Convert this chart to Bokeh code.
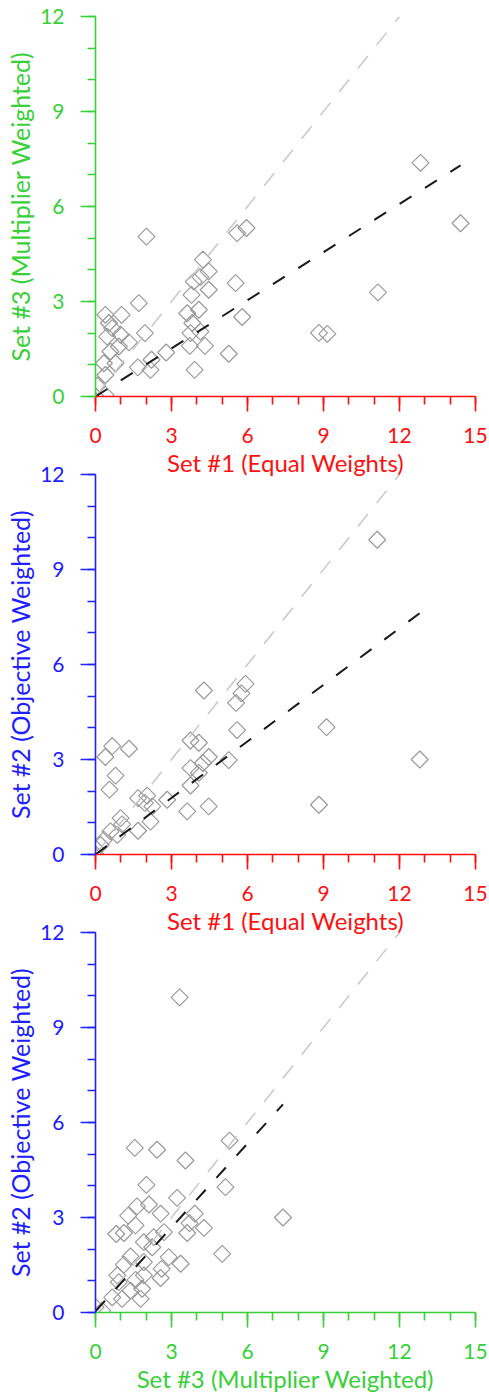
import numpy as np
from bokeh.plotting import figure
from bokeh.layouts import column
from bokeh.models import FixedTicker, Range1d
from bokeh.embed import file_html
from bokeh.resources import INLINE

# ---------------- data ----------------
x_ticks = [0, 3, 6, 9, 12, 15]
y_ticks = [0, 3, 6, 9, 12]
x_minor = list(range(0, 16))
y_minor = list(range(0, 13))

label_set1 = "Set #1 (Equal Weights)"
label_set2 = "Set #2 (Objective Weighted)"
label_set3 = "Set #3 (Multiplier Weighted)"

# Panel 1: Set #1 (x) vs Set #3 (y)
p1_x = [2.01, 5.59, 5.96, 4.24, 4.47, 4.14, 3.88, 5.53, 4.47, 3.79, 1.71, 0.39, 1.03, 4.08,
        3.62, 5.79, 0.53, 0.66, 3.82, 1.95, 0.46, 0.99, 3.75, 4.14, 1.32, 0.92, 3.72, 4.32,
        0.59, 0.79, 0.33, 0.39, 2.79, 2.21, 1.67, 2.17, 5.26, 3.91, 0.07, 0.00, 0.39,
        14.41, 11.15, 8.82, 9.15, 12.83]
p1_y = [5.05, 5.16, 5.32, 4.32, 3.95, 3.77, 3.63, 3.58, 3.37, 3.21, 2.95, 2.58, 2.58, 2.74,
        2.63, 2.51, 2.32, 2.16, 2.32, 2.00, 1.89, 1.95, 2.00, 2.05, 1.71, 1.58, 1.60, 1.60,
        1.42, 1.05, 1.05, 0.68, 1.39, 1.16, 0.92, 0.84, 1.35, 0.84, 0.34, 0.00, 0.05,
        5.47, 3.29, 2.01, 1.98, 7.38]
p1_fit_x = [0.0, 14.41]
p1_fit_y = [0.0, 7.30]

# Panel 2: Set #1 (x) vs Set #2 (y)
p2_x = [4.28, 5.92, 5.76, 5.55, 5.59, 3.75, 4.08, 0.66, 1.32, 0.39, 4.47, 4.24, 5.26, 3.75,
        4.08, 0.79, 3.75, 0.55, 1.68, 2.04, 1.95, 2.24, 2.83, 3.62, 4.47, 2.17, 1.68, 0.99,
        0.86, 0.59, 0.33, 1.05, 0.20, 0.00, 11.12, 9.12, 8.82, 12.80]
p2_y = [5.18, 5.39, 5.09, 4.79, 3.93, 3.60, 3.53, 3.42, 3.34, 3.08, 3.08, 2.89, 2.98, 2.73,
        2.58, 2.49, 2.18, 2.05, 1.78, 1.86, 1.63, 1.52, 1.73, 1.36, 1.52, 1.04, 0.75, 1.15,
        0.62, 0.73, 0.46, 0.95, 0.30, 0.00, 9.94, 4.02, 1.57, 3.00]
p2_fit_x = [0.0, 12.80]
p2_fit_y = [0.0, 7.62]

# Panel 3: Set #3 (x) vs Set #2 (y)
p3_x = [1.55, 2.43, 3.55, 5.29, 2.01, 5.13, 3.22, 1.64, 2.11, 2.57, 1.29, 1.58, 3.92, 3.71,
        4.28, 3.62, 0.82, 1.12, 2.70, 2.30, 1.91, 2.24, 5.00, 2.89, 3.36, 1.38, 1.12, 1.91,
        2.61, 0.86, 0.92, 1.58, 1.91, 2.57, 1.38, 0.66, 1.05, 1.78, 1.84, 0.00, 0.26, 3.32,
        7.40]
p3_y = [5.20, 5.14, 4.80, 5.43, 4.03, 3.96, 3.62, 3.35, 3.41, 3.12, 3.06, 2.75, 3.12, 2.82,
        2.67, 2.51, 2.48, 2.51, 2.54, 2.38, 2.22, 2.06, 1.85, 1.75, 1.54, 1.77, 1.51, 1.59,
        1.38, 1.17, 0.96, 1.03, 1.17, 1.09, 0.69, 0.48, 0.43, 0.43, 0.75, 0.17, 0.06, 9.95,
        3.00]
p3_fit_x = [0.0, 7.40]
p3_fit_y = [0.04, 6.57]

one_to_one = [0, 12]

# ---------------- styling ----------------
GREEN = "#38d038"
RED = "#ff1010"
BLUE = "#2020ff"
FONT = "Lato"


def style_axis(ax, ticks, minor, color, label, title_size):
    ax.ticker = FixedTicker(ticks=ticks, minor_ticks=minor)
    ax.axis_line_color = color
    ax.axis_line_width = 1.6
    ax.major_tick_line_color = color
    ax.minor_tick_line_color = color
    ax.major_tick_line_width = 1.6
    ax.minor_tick_line_width = 1.6
    ax.major_tick_out = 15
    ax.major_tick_in = 0
    ax.minor_tick_out = 8
    ax.minor_tick_in = 0
    ax.major_label_text_color = color
    ax.major_label_text_font = FONT
    ax.major_label_text_font_size = "21px"
    ax.major_label_standoff = 16
    ax.axis_label = label
    ax.axis_label_text_color = color
    ax.axis_label_text_font = FONT
    ax.axis_label_text_font_size = title_size
    ax.axis_label_text_font_style = "normal"


def make_panel(xs, ys, fx, fy, xcolor, ycolor, xlabel, ylabel, top_margin):
    p = figure(width=489, height=482, x_range=Range1d(0, 15), y_range=Range1d(0, 12),
               output_backend="svg", toolbar_location=None,
               min_border_left=95, min_border_right=14, min_border_top=16,
               min_border_bottom=86)
    p.grid.visible = False
    p.outline_line_color = None
    p.background_fill_color = None
    p.border_fill_color = None
    style_axis(p.xaxis[0], x_ticks, x_minor, xcolor, xlabel, "24px")
    style_axis(p.yaxis[0], y_ticks, y_minor, ycolor, ylabel, "25px")
    p.xaxis[0].axis_label_standoff = 2
    p.yaxis[0].axis_label_standoff = 2
    p.scatter(xs, ys, marker="square", size=12, angle=np.pi / 4,
              fill_color=None, line_color="#9a9a9a", line_width=1.2)
    p.line(one_to_one, one_to_one, line_color="#c8c8c8", line_dash="16 14", line_width=1.5)
    p.line(fx, fy, line_color="#1a1a1a", line_dash="14 16", line_width=2)
    if top_margin:
        p.margin = (top_margin, 0, 0, 0)
    return p


f1 = make_panel(p1_x, p1_y, p1_fit_x, p1_fit_y, RED, GREEN, label_set1, label_set3, 0)
f2 = make_panel(p2_x, p2_y, p2_fit_x, p2_fit_y, RED, BLUE, label_set1, label_set2, -24)
f3 = make_panel(p3_x, p3_y, p3_fit_x, p3_fit_y, GREEN, BLUE, label_set3, label_set2, -24)

layout = column(f1, f2, f3)
open("out.html", "w").write(file_html(layout, INLINE))
